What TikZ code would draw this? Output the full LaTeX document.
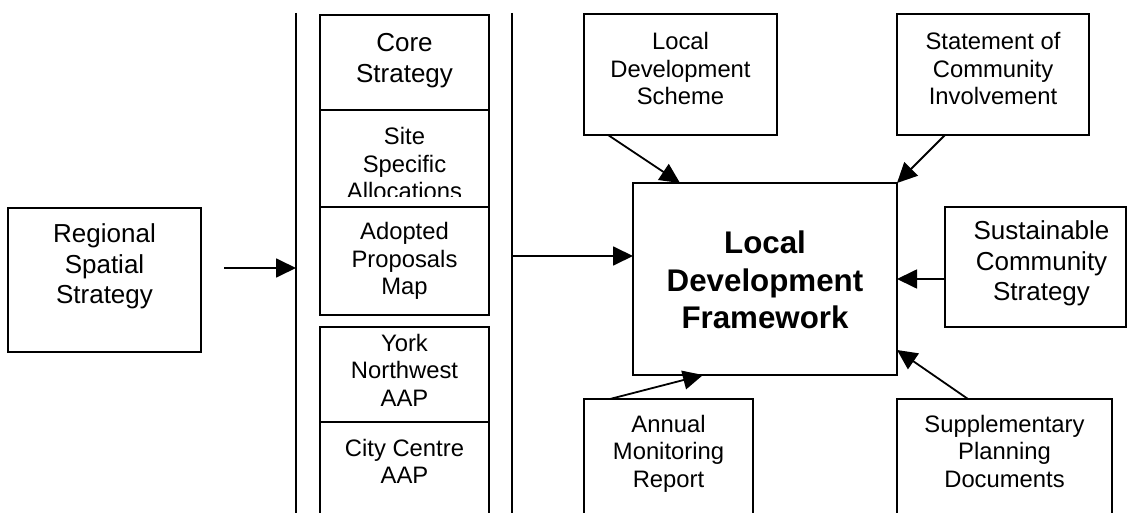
\documentclass[tikz,border=0pt]{standalone}
\usepackage{fontspec}
\setmainfont{Liberation Sans}
\usetikzlibrary{arrows.meta}
\newcommand{\boxtxt}[4]{\begin{minipage}[t][#2][t]{#1}\centering\rule{0pt}{#3}#4\end{minipage}}
\tikzset{
  dbox/.style={draw, line width=1.8pt, inner sep=0pt, outer sep=0pt, anchor=north west, fill=white},
  bigf/.style={font=\fontsize{26pt}{30.5pt}\selectfont},
  smallf/.style={font=\fontsize{23.8pt}{27.5pt}\selectfont},
  ldff/.style={font=\fontsize{31.3pt}{37pt}\selectfont\bfseries},
  arr/.style={line width=1.8pt, -{Triangle[length=20pt,width=19pt]}},
  vline/.style={line width=1.8pt},
}
\begin{document}
\begin{tikzpicture}[x=1pt,y=-1pt]
\useasboundingbox (0,0) rectangle (1127,513);
\clip (0,0) rectangle (1127,513);

% vertical divider lines
\coordinate (vlAt) at (296,13);
\coordinate (vlAb) at (296,530);
\coordinate (vlBt) at (512,13);
\coordinate (vlBb) at (512,530);
\draw[vline] (vlAt) -- (vlAb);
\draw[vline] (vlBt) -- (vlBb);

% left box
\node[dbox, bigf] (rss) at (8,208) {\boxtxt{193pt}{144pt}{35pt}{Regional\\Spatial\\Strategy}};

% column of documents
\node[dbox, bigf] (core) at (320,15) {\boxtxt{169pt}{95pt}{37pt}{Core\\Strategy}};
\node[dbox, smallf] (site) at (320,110) {\boxtxt{169pt}{97pt}{35pt}{Site\\Specific\\Allocations}};
\fill[white] (321.2,197) rectangle (487.8,206);
\node[dbox, smallf] (apm) at (320,207) {\boxtxt{169pt}{108pt}{33pt}{Adopted\\Proposals\\Map}};
\node[dbox, smallf] (york) at (320,327) {\boxtxt{169pt}{95pt}{24pt}{York\\Northwest\\AAP}};
\node[dbox, smallf] (city) at (320,422) {\boxtxt{169pt}{150pt}{34pt}{City Centre\\AAP}};

% right side
\node[dbox, smallf] (lds) at (584,14) {\boxtxt{193pt}{121pt}{36pt}{Local\\Development\\Scheme}};
\node[dbox, smallf] (sci) at (897,14) {\boxtxt{192pt}{121pt}{36pt}{Statement of\\Community\\Involvement}};
\node[dbox, ldff] (ldf) at (633,183) {\boxtxt{264pt}{192pt}{71pt}{Local\\Development\\Framework}};
\node[dbox, bigf] (scs) at (945,207) {\boxtxt{181pt}{120pt}{33pt}{\hspace*{12pt}Sustainable\\\hspace*{12pt}Community\\\hspace*{12pt}Strategy}};
\node[dbox, smallf] (amr) at (584,399) {\boxtxt{169pt}{150pt}{33pt}{Annual\\Monitoring\\Report}};
\node[dbox, smallf] (spd) at (897,399) {\boxtxt{215pt}{150pt}{33pt}{Supplementary\\Planning\\Documents}};

% connectors
\coordinate (rssout) at (224,268);
\draw[arr] (rssout) -- (rssout -| vlAt);
\coordinate (colout) at (512,256);
\draw[arr] (colout) -- (colout -| ldf.west);
\draw[arr] ([xshift=24pt]lds.south west) -- ([xshift=47pt]ldf.north west);
\draw[arr] ([xshift=48pt]sci.south west) -- (ldf.north east);
\draw[arr] (scs.west |- ldf.east) -- (ldf.east);
\draw[arr] ([xshift=71pt]spd.north west) -- ([yshift=25pt]ldf.south east);
\draw[arr] ([xshift=26pt]amr.north west) -- ([xshift=70pt]ldf.south west);
\end{tikzpicture}
\end{document}
